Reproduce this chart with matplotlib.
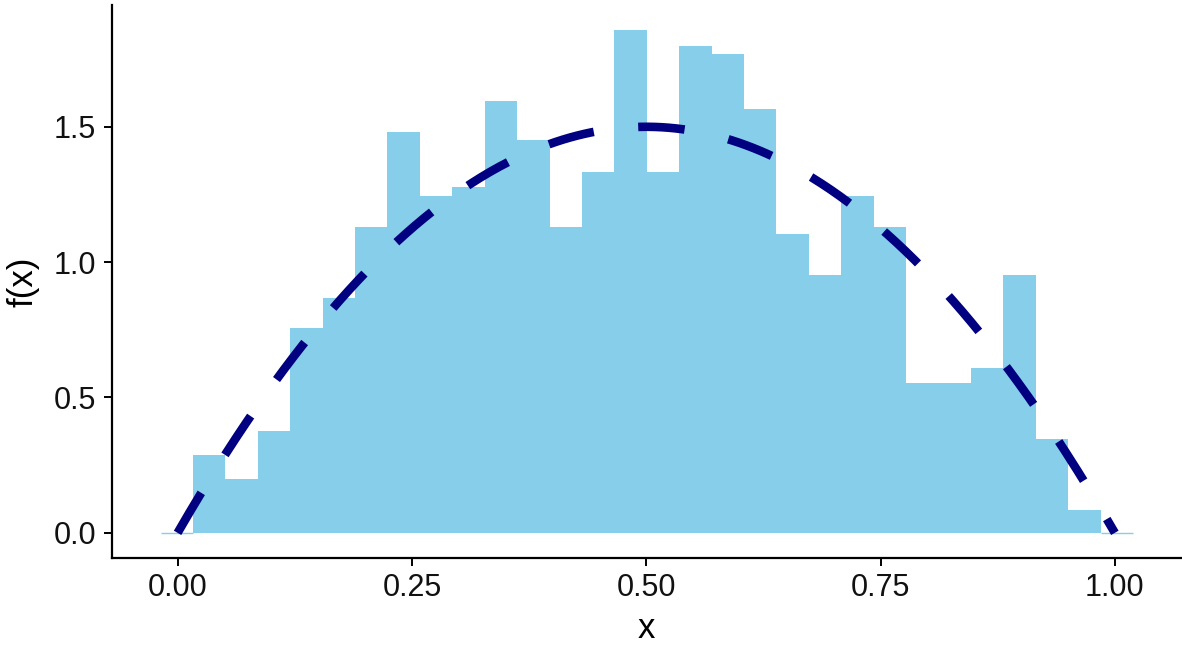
#!/usr/bin/env python3
"""Histogram of a Beta(2, 2) sample with the true density 6x(1-x) on top."""

import matplotlib
matplotlib.use("Agg")
import matplotlib.pyplot as plt
import numpy as np

plt.rcParams["font.family"] = ["Liberation Sans", "DejaVu Sans"]

# 30 bins, left edge and width
BIN_START = -0.0181
BIN_WIDTH = 0.03458
DENSITY = [
    0.0, 0.289, 0.200, 0.378, 0.755, 0.869, 1.131, 1.479, 1.246, 1.276,
    1.594, 1.450, 1.131, 1.332, 1.857, 1.332, 1.798, 1.769, 1.566, 1.105,
    0.954, 1.246, 1.131, 0.552, 0.552, 0.608, 0.954, 0.348, 0.086, 0.0,
]
X_TICKS = [0.00, 0.25, 0.50, 0.75, 1.00]
Y_TICKS = [0.0, 0.5, 1.0, 1.5]

FILL = "#87CEEB"
LINE = "#000080"


def main() -> None:
    fig = plt.figure(figsize=(11.82, 6.46), dpi=100)
    ax = fig.add_axes([111.5 / 1182, 1 - 558 / 646, (1181 - 111.5) / 1182, (558 - 5) / 646])

    heights = np.asarray(DENSITY)
    lefts = BIN_START + BIN_WIDTH * np.arange(len(heights))
    ax.bar(lefts, heights, width=BIN_WIDTH, align="edge", color=FILL, linewidth=0)
    empty = heights == 0
    ax.hlines(np.zeros(empty.sum()), lefts[empty], lefts[empty] + BIN_WIDTH,
              color=FILL, linewidth=1)

    xs = np.linspace(0, 1, 400)
    ax.plot(xs, 6 * xs * (1 - xs), color=LINE, linewidth=6.2,
            dashes=(5.4, 5.2), solid_capstyle="butt", dash_capstyle="butt")

    ax.set_xlim(-0.0705, 1.0706)
    ax.set_ylim(-0.0929, 1.9499)
    ax.set_xticks(X_TICKS, [f"{t:.2f}" for t in X_TICKS])
    ax.set_yticks(Y_TICKS, [f"{t:.1f}" for t in Y_TICKS])
    ax.set_xlabel("x", fontsize=25, labelpad=6)
    ax.set_ylabel("f(x)", fontsize=25, labelpad=10)

    for side in ("top", "right"):
        ax.spines[side].set_visible(False)
    for side in ("left", "bottom"):
        ax.spines[side].set_linewidth(1.6)
    ax.tick_params(axis="both", labelsize=22, length=6, width=1.4,
                   color="black", labelcolor="#111111", pad=5)

    fig.savefig("out.png", dpi=100)
    plt.close(fig)


if __name__ == "__main__":
    main()
